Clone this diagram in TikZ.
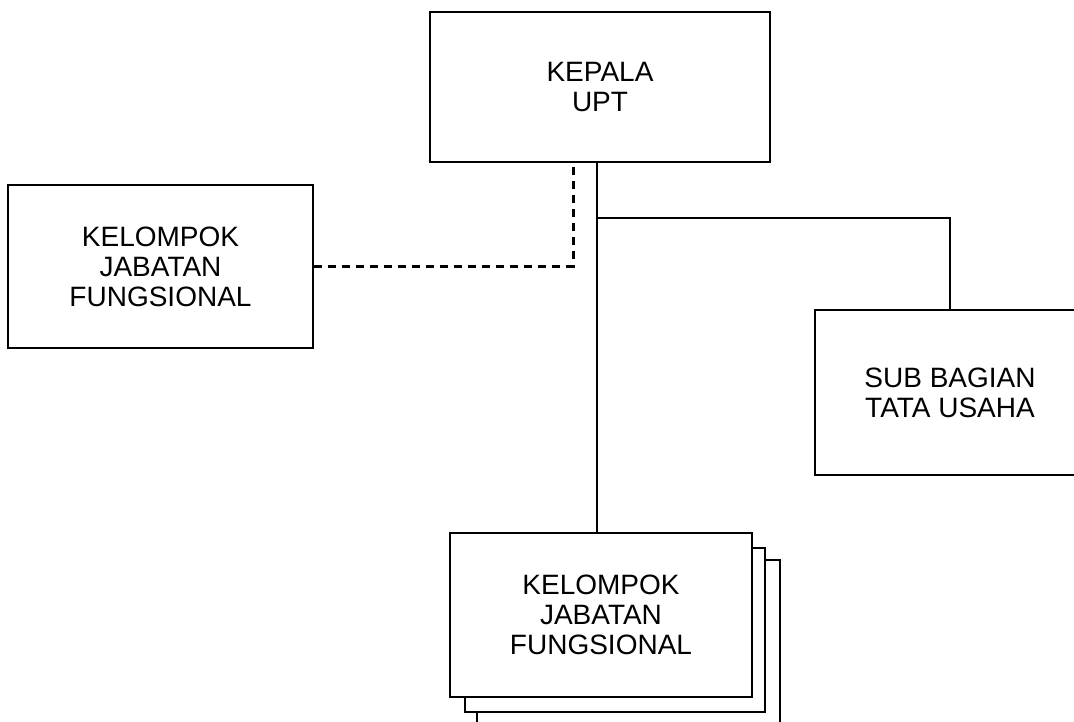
\documentclass[tikz,border=0pt]{standalone}
\usepackage{fontspec}
\setmainfont{Liberation Sans}
\begin{document}
\begin{tikzpicture}[x=1pt,y=-1pt,
  box/.style={draw=black, line width=2.8pt, fill=white, inner sep=0pt, align=center,
    font=\fontsize{28}{30}\selectfont},
  conn/.style={draw=black, line width=2.8pt},
  dconn/.style={draw=black, line width=3pt, dash pattern=on 8pt off 6pt}]
\clip (0,0) rectangle (1074,721);
\fill[white] (0,0) rectangle (1074,721);
% top box
\node[box, minimum width=340pt, minimum height=150pt] (kep) at (600,87) {KEPALA\\UPT};
% left box
\node[box, minimum width=305pt, minimum height=163pt] (kjf) at (160.5,266.5) {KELOMPOK\\JABATAN\\FUNGSIONAL};
% right box (cut by page edge)
\node[box, minimum width=270pt, minimum height=165pt] (sub) at (950,392.5) {SUB BAGIAN\\TATA USAHA};
% stacked boxes
\node[box, minimum width=303pt, minimum height=164pt] (st3) at (628.5,642) {};
\node[box, minimum width=300pt, minimum height=164pt] (st2) at (615,630) {};
\node[box, minimum width=302pt, minimum height=164pt] (st1) at (601,615) {KELOMPOK\\JABATAN\\FUNGSIONAL};
% helper coordinates
\coordinate (sx) at (597,0);
\coordinate (dx) at (573,0);
\coordinate (br) at (597,218);
% connectors
\draw[conn] (kep.south -| sx) -- (st1.north -| sx);
\draw[conn] (br) -| (sub.north);
\draw[dconn] (kjf.east) -| (kep.south -| dx);
\end{tikzpicture}
\end{document}
